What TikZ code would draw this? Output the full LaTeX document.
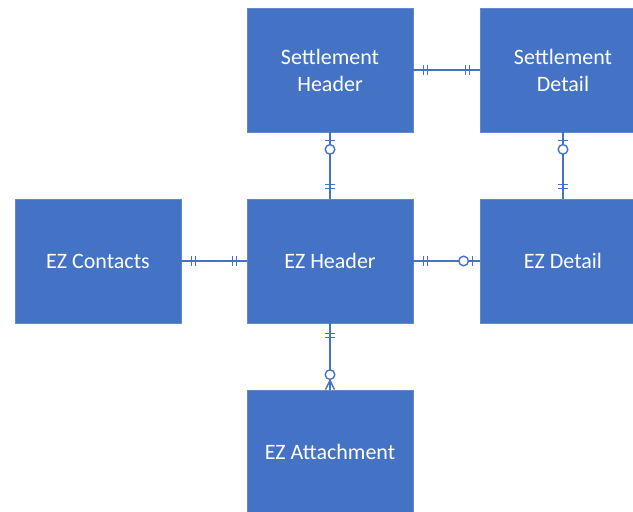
\documentclass[tikz,border=0pt]{standalone}
\usepackage{fontspec}
\setmainfont{Carlito}
\usetikzlibrary{decorations.markings}
\definecolor{boxblue}{HTML}{4472C4}
\definecolor{boxedge}{HTML}{6089D0}
\tikzset{
  entity/.style={rectangle, fill=boxblue, draw=boxedge, line width=0.8pt,
    minimum width=166pt, minimum height=124pt, inner sep=0pt,
    text=white, align=center, font=\fontsize{22}{27}\selectfont},
  rel/.style={draw=boxblue, line width=1.4pt},
  onestart/.style={postaction={decorate, decoration={markings,
    mark=at position 10pt with {\draw[rel] (0,-5pt) -- (0,5pt);},
    mark=at position 14pt with {\draw[rel] (0,-5pt) -- (0,5pt);}}}},
  oneend/.style={postaction={decorate, decoration={markings,
    mark=at position -14pt with {\draw[rel] (0,-5pt) -- (0,5pt);},
    mark=at position -10pt with {\draw[rel] (0,-5pt) -- (0,5pt);}}}},
  optstart/.style={postaction={decorate, decoration={markings,
    mark=at position 8pt with {\draw[rel] (0,-5pt) -- (0,5pt);},
    mark=at position 17pt with {\draw[rel, fill=white] (0,0) circle (4.8pt);}}}},
  optend/.style={postaction={decorate, decoration={markings,
    mark=at position -16pt with {\draw[rel, fill=white] (0,0) circle (4.8pt);},
    mark=at position -7pt with {\draw[rel] (0,-5pt) -- (0,5pt);}}}},
  manyend/.style={postaction={decorate, decoration={markings,
    mark=at position -15pt with {\draw[rel, fill=white] (0,0) circle (4.8pt);},
    mark=at position -0.1pt with {\draw[rel] (-9pt,0) -- (0,4.5pt) (-9pt,0) -- (0,-4.5pt);}}}}
}
\begin{document}
\begin{tikzpicture}[x=1pt, y=-1pt]
  \useasboundingbox (0,0) rectangle (633,512);
  \clip (0,0) rectangle (633,512);
  \fill[white] (0,0) rectangle (633,512);
  \node[entity] (sethead) at (330,70) {Settlement\\Header};
  \node[entity] (setdet) at (563,70) {Settlement\\Detail};
  \node[entity] (contacts) at (98,261) {EZ Contacts};
  \node[entity] (ezhead) at (330,261) {EZ Header};
  \node[entity] (ezdet) at (563,261) {EZ Detail};
  \node[entity] (attach) at (330,452) {EZ Attachment};
  \begin{scope}[rel]
    \draw[onestart, oneend] (sethead) to (setdet);
    \draw[optstart, oneend] (sethead) to (ezhead);
    \draw[optstart, oneend] (setdet) to (ezdet);
    \draw[onestart, oneend] (contacts) to (ezhead);
    \draw[onestart, optend] (ezhead) to (ezdet);
    \draw[onestart, manyend] (ezhead) to (attach);
  \end{scope}
\end{tikzpicture}
\end{document}
